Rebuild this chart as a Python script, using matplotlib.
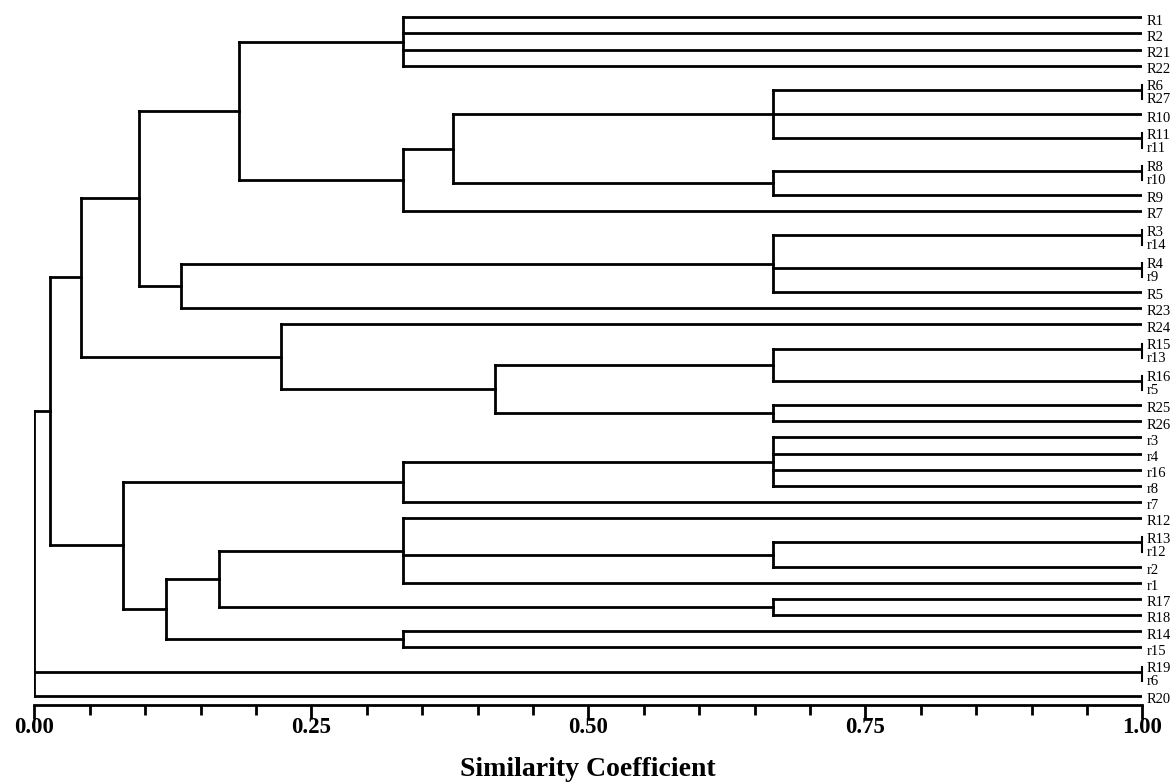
import matplotlib

matplotlib.use("Agg")
import matplotlib.pyplot as plt
from matplotlib.ticker import FormatStrFormatter, MultipleLocator

# leaf order, top to bottom
leaves = [
    "R1", "R2", "R21", "R22", "R6", "R27", "R10", "R11", "r11", "R8", "r10",
    "R9", "R7", "R3", "r14", "R4", "r9", "R5", "R23", "R24", "R15", "r13",
    "R16", "r5", "R25", "R26", "r3", "r4", "r16", "r8", "r7", "R12", "R13",
    "r12", "r2", "r1", "R17", "R18", "R14", "r15", "R19", "r6", "R20",
]

# identical samples, joined at similarity 1.00
twins = [
    ("R6", "R27"), ("R11", "r11"), ("R8", "r10"), ("R3", "r14"), ("R4", "r9"),
    ("R15", "r13"), ("R16", "r5"), ("R13", "r12"), ("R19", "r6"),
]

# clusters (children always listed before their parent)
node_names = [f"g{i}" for i in range(1, 26)]
node_sim = [
    0.333, 0.667, 0.667, 0.378, 0.333, 0.185, 0.667, 0.132, 0.094, 0.667,
    0.667, 0.416, 0.223, 0.042, 0.667, 0.333, 0.667, 0.333, 0.667, 0.1665,
    0.333, 0.119, 0.080, 0.014, 0.0,
]
node_children = [
    ["R1", "R2", "R21", "R22"],
    ["R6/R27", "R10", "R11/r11"],
    ["R8/r10", "R9"],
    ["g2", "g3"],
    ["g4", "R7"],
    ["g1", "g5"],
    ["R3/r14", "R4/r9", "R5"],
    ["g7", "R23"],
    ["g6", "g8"],
    ["R15/r13", "R16/r5"],
    ["R25", "R26"],
    ["g10", "g11"],
    ["R24", "g12"],
    ["g9", "g13"],
    ["r3", "r4", "r16", "r8"],
    ["g15", "r7"],
    ["R13/r12", "r2"],
    ["R12", "g17", "r1"],
    ["R17", "R18"],
    ["g18", "g19"],
    ["R14", "r15"],
    ["g20", "g21"],
    ["g16", "g22"],
    ["g14", "g23"],
    ["g24", "R19/r6", "R20"],
]

plt.rcParams["font.family"] = ["Liberation Serif", "DejaVu Serif"]

fig = plt.figure(figsize=(11.76, 7.83), dpi=100)
ax = fig.add_axes([0.02925, 0.0996, 0.9422, 0.9004])

ypos = {}
xsim = {}
for i, name in enumerate(leaves):
    ypos[name] = i
    xsim[name] = 1.0
twin_members = set()
for a, b in twins:
    key = f"{a}/{b}"
    ypos[key] = (ypos[a] + ypos[b]) / 2
    xsim[key] = 1.0
    twin_members.update([a, b])

line_kw = dict(color="black", lw=2)
for name, s, children in zip(node_names, node_sim, node_children):
    y0, y1 = ypos[children[0]], ypos[children[-1]]
    ypos[name] = (y0 + y1) / 2
    xsim[name] = s
    ax.plot([s, s], [y0, y1], **line_kw)
    for c in children:
        ax.plot([s, xsim[c]], [ypos[c], ypos[c]], **line_kw)

label_kw = dict(xytext=(3, 0), textcoords="offset points", va="baseline",
                ha="left", fontsize=10.5, annotation_clip=False)

# short bars and stacked labels for identical pairs
for a, b in twins:
    m = ypos[f"{a}/{b}"]
    ax.plot([1.0, 1.0], [m - 0.31, m + 0.58], color="black", lw=1.5,
            clip_on=False)
    ax.annotate(a, (1.0, m + 0.01), **label_kw)
    ax.annotate(b, (1.0, m + 0.82), **label_kw)

for name in leaves:
    if name in twin_members:
        continue
    ax.annotate(name, (1.0, ypos[name] + 0.45), **label_kw)

ax.set_xlim(0, 1)
ax.set_ylim(42.56, -1.07)
for side in ["top", "right", "left"]:
    ax.spines[side].set_visible(False)
ax.spines["bottom"].set_linewidth(2)
ax.set_yticks([])
ax.set_xticks([0, 0.25, 0.5, 0.75, 1.0])
ax.xaxis.set_major_formatter(FormatStrFormatter("%.2f"))
ax.xaxis.set_minor_locator(MultipleLocator(0.05))
ax.tick_params(axis="x", which="major", direction="out", length=10, width=2,
               pad=-1.5, labelsize=16.5)
ax.tick_params(axis="x", which="minor", direction="out", length=7, width=2)
for lab in ax.get_xticklabels():
    lab.set_fontweight("bold")

fig.text(588 / 1176, 7 / 783, "Similarity Coefficient", ha="center",
         va="baseline", fontsize=20, fontweight="bold")

fig.savefig("out.png", dpi=100)
